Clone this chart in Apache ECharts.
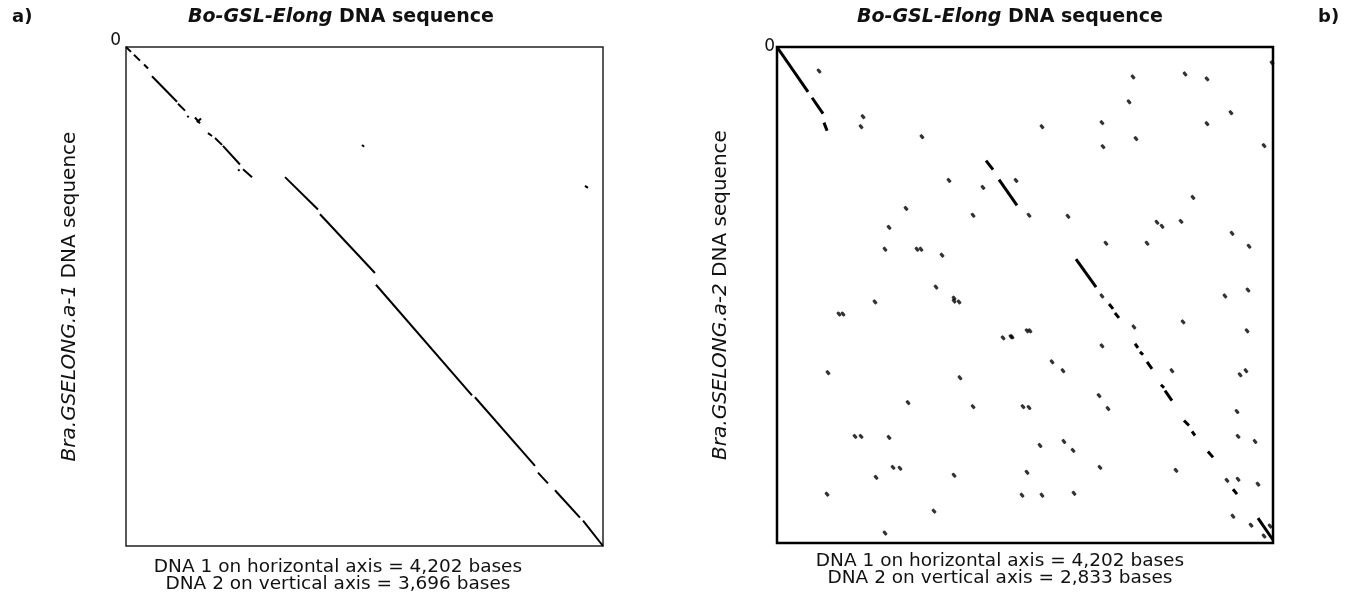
<!DOCTYPE html>
<html lang="en">
<head>
  <meta charset="UTF-8">
  <title>Dot plots</title>
  <script src="https://cdn.jsdelivr.net/npm/echarts@6/dist/echarts.min.js"></script>
  <style>
    html, body { margin: 0; padding: 0; background: #fff; }
    #chart { width: 1347px; height: 595px; }
  </style>
</head>
<body>
  <div id="chart"></div>
  <script>
    // sequence lengths (bases)
    const lenX = 4202;
    const lenYa = 3696;
    const lenYb = 2833;

    // panel a) matching runs [x1, y1, x2, y2] in bases
    const leftRuns = [
      [0, 0, 44, 36], [70, 58, 123, 101], [159, 130, 194, 159],
      [229, 217, 449, 406], [458, 420, 520, 471], [540, 510, 552, 520],
      [608, 522, 652, 565], [625, 558, 661, 529],
      [722, 638, 758, 659], [784, 674, 846, 725], [854, 732, 1004, 870],
      [1031, 906, 1110, 964], [988, 906, 1000, 918],
      [2079, 725, 2097, 739], [4043, 1029, 4070, 1044],
      [1401, 964, 1691, 1203], [1709, 1239, 2193, 1674],
      [2202, 1761, 3048, 2580], [3074, 2594, 3603, 3102],
      [3629, 3152, 3717, 3232], [3779, 3283, 3999, 3486],
      [4026, 3508, 4202, 3696]
    ];

    // panel b) longer matching runs
    const rightRuns = [
      [0, 0, 263, 256], [297, 290, 390, 381], [398, 432, 424, 478],
      [1771, 649, 1830, 700], [1881, 757, 2033, 905], [2533, 1212, 2703, 1371],
      [2813, 1468, 2847, 1496], [2863, 1519, 2897, 1547], [3033, 1695, 3058, 1718],
      [3075, 1741, 3101, 1758], [3135, 1798, 3177, 1838], [3253, 1929, 3279, 1946],
      [3287, 1963, 3346, 2020], [3448, 2133, 3490, 2162], [3516, 2196, 3541, 2219],
      [3651, 2310, 3694, 2344], [3863, 2526, 3897, 2554], [4075, 2691, 4202, 2816]
    ];

    // panel b) short isolated matches [x, y]
    const rightDots = [
      [356, 137], [729, 398], [712, 455], [1228, 512], [2025, 762], [1457, 762],
      [1745, 802], [1093, 922], [1661, 961], [2135, 961], [949, 1030], [915, 1155],
      [1186, 1155], [1220, 1155], [1398, 1189], [1347, 1371], [1500, 1434],
      [3016, 171], [3457, 154], [3643, 182], [4194, 91], [2982, 313], [3846, 375],
      [2245, 455], [2753, 432], [3643, 438], [3041, 523], [2762, 569], [4126, 563],
      [2465, 967], [3524, 859], [3219, 1001], [3262, 1024], [3423, 996], [3855, 1064],
      [3999, 1138], [2787, 1121], [3135, 1121], [2753, 1422], [3795, 1422], [3990, 1388],
      [3440, 1570], [3024, 1599], [3982, 1621], [2118, 1621], [2143, 1621], [1991, 1655],
      [2753, 1707], [3346, 1849], [2330, 1798], [2423, 1849], [3973, 1849], [3923, 1872],
      [2728, 1991], [2804, 2065], [2084, 2054], [2135, 2059], [3897, 2082], [3906, 2224],
      [4050, 2253], [2228, 2276], [2431, 2253], [2508, 2304], [2736, 2401], [3380, 2418],
      [2118, 2429], [3812, 2475], [3906, 2469], [4075, 2497], [2076, 2560], [2245, 2560],
      [2516, 2549], [3863, 2680], [4016, 2731], [4177, 2736], [4126, 2793],
      [830, 1456], [1500, 1451], [1542, 1456], [525, 1525], [559, 1525], [1915, 1661],
      [1982, 1655], [432, 1860], [1550, 1889], [1110, 2031], [1661, 2054], [661, 2224],
      [712, 2224], [949, 2230], [983, 2401], [1042, 2406], [839, 2458], [1500, 2446],
      [424, 2554], [1330, 2651], [915, 2776]
    ];

    const topTitle = '{i|Bo-GSL-Elong} DNA sequence';
    const leftYName = '{i|Bra.GSELONG.a-1} DNA sequence';
    const rightYName = '{i|Bra.GSELONG.a-2} DNA sequence';
    const leftNote = 'DNA 1 on horizontal axis = 4,202 bases\nDNA 2 on vertical axis = 3,696 bases';
    const rightNote = 'DNA 1 on horizontal axis = 4,202 bases\nDNA 2 on vertical axis = 2,833 bases';

    const FONT = 'DejaVu Sans, Liberation Sans, sans-serif';

    function toLines(runs) {
      return runs.map(r => ({ coords: [[r[0], r[1]], [r[2], r[3]]] }));
    }

    function xAxisFor(idx) {
      return {
        type: 'value', gridIndex: idx, min: 0, max: lenX,
        axisLine: { show: false }, axisTick: { show: false },
        axisLabel: { show: false }, splitLine: { show: false }
      };
    }

    function yAxisFor(idx, max, name, labelOpts) {
      return {
        type: 'value', gridIndex: idx, min: 0, max: max, interval: max,
        inverse: true,
        name: name, nameLocation: 'middle', nameRotate: 90, nameGap: 46,
        nameTextStyle: {
          fontFamily: FONT, fontSize: 20, color: '#111',
          rich: { i: { fontFamily: FONT, fontSize: 20, fontStyle: 'italic', color: '#111' } }
        },
        axisLine: { show: false }, axisTick: { show: false }, splitLine: { show: false },
        axisLabel: Object.assign({
          fontFamily: FONT, fontSize: 17, color: '#111',
          formatter: v => (v === 0 ? '0' : '')
        }, labelOpts)
      };
    }

    const titleStyle = {
      fontFamily: FONT, fontSize: 19, fontWeight: 'bold', color: '#111',
      rich: { i: { fontFamily: FONT, fontSize: 19, fontWeight: 'bold', fontStyle: 'italic', color: '#111' } }
    };
    const noteStyle = { fontFamily: FONT, fontSize: 18.5, fontWeight: 'normal', color: '#111', lineHeight: 17 };

    const chart = echarts.init(document.getElementById('chart'));
    const option = {
      animation: false,
      backgroundColor: '#fff',
      title: [
        { text: 'a)', left: 7, top: 3, textStyle: { fontFamily: FONT, fontSize: 18, fontWeight: 'bold', color: '#111' } },
        { text: 'b)', left: 1313, top: 3, textStyle: { fontFamily: FONT, fontSize: 18, fontWeight: 'bold', color: '#111' } },
        { text: topTitle, left: 336, top: 3, textAlign: 'center', textStyle: titleStyle },
        { text: topTitle, left: 1005, top: 3, textAlign: 'center', textStyle: titleStyle },
        { text: leftNote, left: 333, top: 554, textAlign: 'center', textStyle: noteStyle },
        { text: rightNote, left: 995, top: 548, textAlign: 'center', textStyle: noteStyle }
      ],
      grid: [
        { left: 126, top: 47, width: 477, height: 499, show: true, borderColor: '#222', borderWidth: 1.5, backgroundColor: 'transparent' },
        { left: 777, top: 47, width: 496, height: 496, show: true, borderColor: '#000', borderWidth: 2.5, backgroundColor: 'transparent' }
      ],
      xAxis: [xAxisFor(0), xAxisFor(1)],
      yAxis: [
        yAxisFor(0, lenYa, leftYName, { margin: 5, verticalAlign: 'bottom', padding: [0, 0, -2, 0] }),
        yAxisFor(1, lenYb, rightYName, { margin: 2, verticalAlign: 'middle' })
      ],
      series: [
        {
          type: 'lines', coordinateSystem: 'cartesian2d', xAxisIndex: 0, yAxisIndex: 0,
          silent: true, lineStyle: { color: '#000', width: 2, opacity: 1 },
          data: toLines(leftRuns)
        },
        {
          type: 'lines', coordinateSystem: 'cartesian2d', xAxisIndex: 1, yAxisIndex: 1,
          silent: true, lineStyle: { color: '#000', width: 3, opacity: 1 },
          data: toLines(rightRuns)
        },
        {
          type: 'scatter', xAxisIndex: 1, yAxisIndex: 1, silent: true,
          symbol: 'roundRect', symbolSize: [5, 3.2], symbolRotate: -50,
          itemStyle: { color: '#000' },
          data: rightDots
        }
      ]
    };
    chart.setOption(option);
  </script>
</body>
</html>
